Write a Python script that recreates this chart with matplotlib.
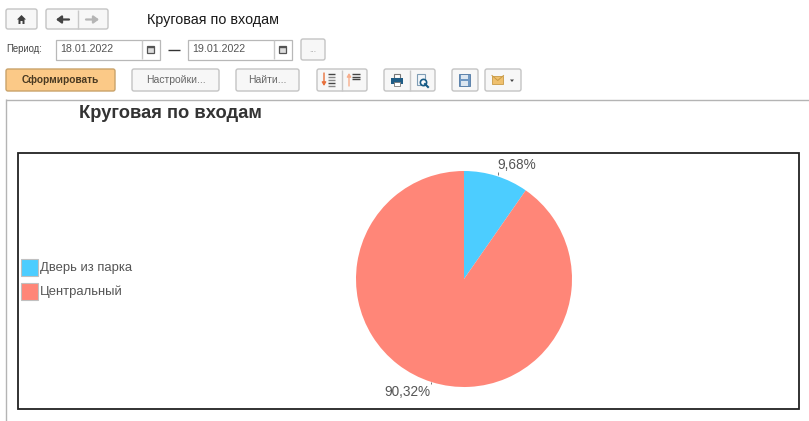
import matplotlib
matplotlib.use("Agg")
import matplotlib.pyplot as plt
from matplotlib.patches import FancyBboxPatch, Rectangle, Polygon

W, H = 809, 421

# chart data
categories = ["Дверь из парка", "Центральный"]
values = [9.68, 90.32]
value_labels = ["9,68%", "90,32%"]
colors = ["#4ccdff", "#ff8678"]

report_title = "Круговая по входам"
period_from = "18.01.2022"
period_to = "19.01.2022"

plt.rcParams["font.family"] = ["Liberation Sans", "DejaVu Sans"]

fig = plt.figure(figsize=(W / 100, H / 100), dpi=100)
ax = fig.add_axes([0, 0, 1, 1])
ax.set_xlim(0, W)
ax.set_ylim(H, 0)
ax.axis("off")


def button(x0, x1, y0, y1, face="#f7f7f7", edge="#c4c4c4"):
    ax.add_patch(FancyBboxPatch((x0 + 1, y0 + 1), x1 - x0 - 2, y1 - y0 - 2,
                                boxstyle="round,pad=1,rounding_size=2",
                                fc=face, ec=edge, lw=1))


def box(x0, x1, y0, y1, ec="#b8b8b8"):
    ax.add_patch(Rectangle((x0, y0), x1 - x0, y1 - y0, fc="white", ec=ec, lw=0.9))


def vline(x, y0, y1, c="#c8c8c8", lw=1):
    ax.plot([x, x], [y0, y1], color=c, lw=lw, solid_capstyle="butt")


def hline(x0, x1, y, c="#c8c8c8", lw=1):
    ax.plot([x0, x1], [y, y], color=c, lw=lw, solid_capstyle="butt")


# top toolbar
button(6, 37, 9, 29)
ax.add_patch(Polygon([(17, 19.5), (21.5, 15), (26, 19.5), (24.5, 19.5), (24.5, 24),
                      (22.5, 24), (22.5, 21), (20.5, 21), (20.5, 24), (18.5, 24), (18.5, 19.5)],
                     fc="#3f3f3f", ec="none"))
button(46, 108, 9, 29)
vline(78, 10, 29)
ax.annotate("", xy=(56, 19.5), xytext=(69, 19.5),
            arrowprops=dict(arrowstyle="-|>,head_width=0.22,head_length=0.3", color="#444444", lw=1.6, shrinkA=0, shrinkB=0))
ax.annotate("", xy=(99, 19.5), xytext=(86, 19.5),
            arrowprops=dict(arrowstyle="-|>,head_width=0.22,head_length=0.3", color="#b5b5b5", lw=1.6, shrinkA=0, shrinkB=0))
ax.text(147, 20, report_title, fontsize=10.4, color="#1a1a1a", va="center", ha="left")

# period row
ax.text(6, 49.5, "Период:", fontsize=6.9, color="#444444", va="center", ha="left")
for x0, x1, label in [(56.5, 160, period_from), (188.5, 292, period_to)]:
    box(x0, x1, 39.5, 59.5)
    vline(x1 - 18, 40, 59)
    ax.text(x0 + 3.5, 49.5, label, fontsize=7.7, color="#555555", va="center", ha="left")
    ax.add_patch(Rectangle((x1 - 12.5, 45.5), 7, 7, fc="#dddddd", ec="#555555", lw=0.9))
    hline(x1 - 12.5, x1 - 5.5, 47, c="#555555")
hline(168, 180, 50, c="#333333")
button(301, 325, 39, 60)
ax.text(313, 51, "...", fontsize=6, color="#999999", va="center", ha="center")

# command row
button(6, 115, 69, 91, face="#fbc987", edge="#c9a36a")
ax.text(60.5, 80, "Сформировать", fontsize=7.3, fontweight="bold", color="#4a3a22", va="center", ha="center")
button(132, 219, 69, 91)
ax.text(175.5, 80, "Настройки...", fontsize=7.5, color="#666666", va="center", ha="center")
button(236, 299, 69, 91)
ax.text(267.5, 80, "Найти...", fontsize=7.5, color="#666666", va="center", ha="center")

# sort buttons
button(317, 367, 69, 91)
vline(342, 70, 91)
ax.annotate("", xy=(324, 86), xytext=(324, 73),
            arrowprops=dict(arrowstyle="-|>,head_width=0.12,head_length=0.2", color="#e8703c", lw=1, shrinkA=0, shrinkB=0))
ax.annotate("", xy=(349, 73), xytext=(349, 86),
            arrowprops=dict(arrowstyle="-|>,head_width=0.12,head_length=0.2", color="#f7ae8c", lw=1, shrinkA=0, shrinkB=0))
for y, c in [(74, "#444444"), (77, "#888888"), (80, "#888888"), (83, "#444444"), (85.5, "#888888")]:
    hline(328, 335, y, c=c)
for y in [74, 76.5, 78.5]:
    hline(352, 360, y, c="#444444")

# print and preview
button(384, 435, 69, 91)
vline(410, 70, 91)
ax.add_patch(Rectangle((394, 74), 6.5, 4, fc="white", ec="#777777", lw=0.8))
ax.add_patch(Rectangle((391, 78), 12, 5.5, fc="#1f5c85", ec="none"))
ax.add_patch(Rectangle((394, 82), 6.5, 3.5, fc="white", ec="#777777", lw=0.6))
ax.add_patch(Rectangle((417, 74), 8, 11, fc="#f2f6fa", ec="#7f9db5", lw=0.8))
ax.plot([423.5], [82], "o", ms=4.5, mfc="white", mec="#175b86", mew=1.2)
ax.plot([425, 428], [84, 87], color="#175b86", lw=1.5)

# save and mail
button(452, 478, 69, 91)
ax.add_patch(Rectangle((459, 74), 11.5, 11.5, fc="#6e97c2", ec="#4f78a3", lw=0.6))
ax.add_patch(Rectangle((461.5, 75), 6.5, 4, fc="#dce6f0", ec="none"))
ax.add_patch(Rectangle((461.5, 81), 6.5, 4.5, fc="#dce6f0", ec="none"))
button(485, 521, 69, 91)
ax.add_patch(Rectangle((492, 75.5), 11.5, 8.5, fc="#efc06e", ec="#c99a45", lw=0.6))
ax.plot([492, 497.75, 503.5], [75.5, 80.5, 75.5], color="#c99a45", lw=0.7)
ax.add_patch(Polygon([(510, 79.5), (514, 79.5), (512, 82)], fc="#444444", ec="none"))

# report area
hline(6, W, 99.5, c="#b4b4b4")
vline(6.5, 99, H, c="#b4b4b4")
ax.text(79, 114, report_title, fontsize=13.2, fontweight="bold", color="#333333", va="center", ha="left")

# chart frame
ax.add_patch(Rectangle((18.5, 152.5), 781, 256, fc="none", ec="#222222", lw=1.3))

# legend
for y, c, name in zip([259, 283], colors, categories):
    ax.add_patch(Rectangle((21, y), 17, 17, fc=c, ec="#c0c0c0", lw=0.8))
    ax.text(40, y + 8.5, name, fontsize=9.4, color="#555555", va="center", ha="left")

# pie, centre 464,279 radius 108 in pixels
pie_ax = fig.add_axes([356 / W, 1 - 387 / H, 216 / W, 216 / H])
pie_ax.pie(values, colors=colors, startangle=90, counterclock=False, radius=1,
           wedgeprops=dict(linewidth=0))
pie_ax.set_xlim(-1, 1)
pie_ax.set_ylim(-1, 1)

ax.text(517, 165, value_labels[0], fontsize=9.8, color="#555555", va="center", ha="center")
ax.text(407, 392.5, value_labels[1], fontsize=9.8, color="#555555", va="center", ha="center")
vline(498, 172, 175, c="#777777", lw=0.7)
vline(431.5, 382, 384, c="#777777", lw=0.7)

fig.savefig("out.png", dpi=100, facecolor="white")
